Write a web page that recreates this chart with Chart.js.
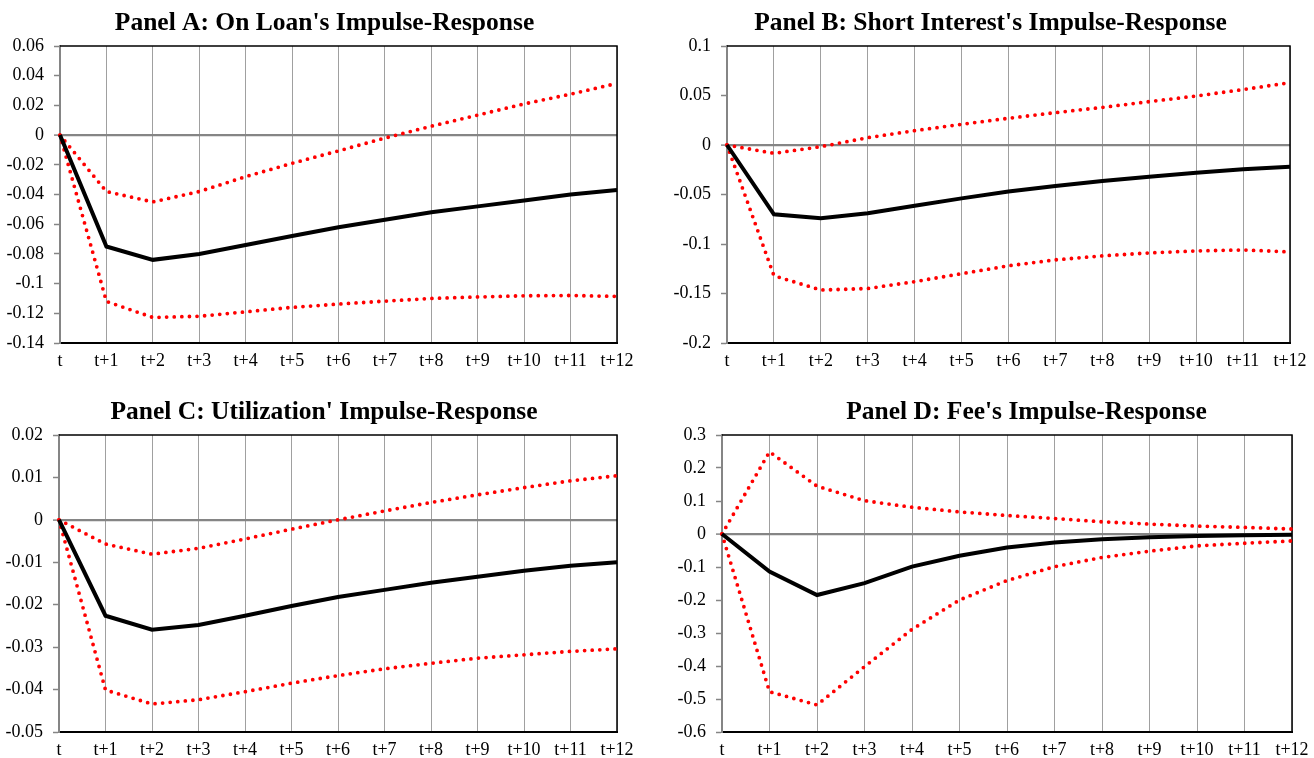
<!DOCTYPE html>
<html>
<head>
<meta charset="utf-8">
<script src="https://cdn.jsdelivr.net/npm/chart.js@4"></script>
<style>
  html, body { margin: 0; padding: 0; background: #fff; overflow: hidden; width: 1314px; height: 758px; }
  canvas { position: absolute; }
</style>
</head>
<body>
<canvas id="panelA" width="649" height="385" style="left:0px;top:0px"></canvas>
<canvas id="panelB" width="661" height="385" style="left:660px;top:0px"></canvas>
<canvas id="panelC" width="648" height="368" style="left:0px;top:390px"></canvas>
<canvas id="panelD" width="753" height="368" style="left:650px;top:390px"></canvas>
<script>
// horizon labels
var categories = ["t", "t+1", "t+2", "t+3", "t+4", "t+5", "t+6", "t+7", "t+8", "t+9", "t+10", "t+11", "t+12"];

// Panel A: On Loan
var loanMid = [0, -0.075, -0.084, -0.080, -0.074, -0.068, -0.062, -0.057, -0.052, -0.048, -0.044, -0.040, -0.037];
var loanUpper = [0, -0.038, -0.045, -0.038, -0.028, -0.019, -0.0106, -0.002, 0.006, 0.0135, 0.021, 0.0276, 0.0348];
var loanLower = [0, -0.112, -0.1228, -0.122, -0.119, -0.116, -0.1138, -0.1118, -0.110, -0.109, -0.1082, -0.108, -0.1086];
var loanAxis = [-0.14, 0.06, 0.02]; // min, max, step

// Panel B: Short Interest
var shortMid = [0, -0.070, -0.074, -0.069, -0.0613, -0.0539, -0.047, -0.0414, -0.0364, -0.032, -0.028, -0.0246, -0.0219];
var shortUpper = [0, -0.0084, -0.0017, 0.0074, 0.0145, 0.0209, 0.027, 0.0327, 0.038, 0.0438, 0.0495, 0.056, 0.063];
var shortLower = [0, -0.132, -0.1465, -0.145, -0.138, -0.130, -0.122, -0.116, -0.112, -0.109, -0.107, -0.106, -0.108];
var shortAxis = [-0.2, 0.1, 0.05];

// Panel C: Utilization
var utilMid = [0, -0.0226, -0.0259, -0.0248, -0.0226, -0.0203, -0.0182, -0.0165, -0.0148, -0.0134, -0.0120, -0.0108, -0.0100];
var utilUpper = [0, -0.0057, -0.0081, -0.0067, -0.0045, -0.0022, 0, 0.0021, 0.0041, 0.0059, 0.0076, 0.0092, 0.0104];
var utilLower = [0, -0.0401, -0.0434, -0.0424, -0.0405, -0.0385, -0.0367, -0.0351, -0.0338, -0.0326, -0.0318, -0.0310, -0.0304];
var utilAxis = [-0.05, 0.02, 0.01];

// Panel D: Fee
var feeMid = [0, -0.114, -0.185, -0.149, -0.099, -0.066, -0.041, -0.026, -0.016, -0.010, -0.006, -0.004, -0.002];
var feeUpper = [0, 0.249, 0.145, 0.101, 0.081, 0.067, 0.056, 0.047, 0.037, 0.030, 0.024, 0.020, 0.015];
var feeLower = [0, -0.478, -0.518, -0.402, -0.289, -0.200, -0.141, -0.099, -0.071, -0.052, -0.036, -0.028, -0.021];
var feeAxis = [-0.6, 0.3, 0.1];

var serif = "'Liberation Serif', 'Times New Roman', serif";

// top and right edge of the plot box
var frame = {
  id: "frame",
  beforeDatasetsDraw: function (chart) {
    var a = chart.chartArea;
    var ctx = chart.ctx;
    ctx.save();
    ctx.strokeStyle = "#000";
    ctx.lineWidth = 1.5;
    ctx.beginPath();
    ctx.moveTo(a.left, a.top);
    ctx.lineTo(a.right, a.top);
    ctx.lineTo(a.right, a.bottom);
    ctx.stroke();
    ctx.restore();
  },
};

function dotted(data) {
  return {
    data: data,
    borderColor: "#ff0000",
    borderWidth: 3.8,
    borderDash: [0, 7.6],
    borderCapStyle: "round",
    pointRadius: 0,
    tension: 0,
    fill: false,
  };
}

function makePanel(id, title, mid, upper, lower, axis, box) {
  var ctx = document.getElementById(id).getContext("2d");
  return new Chart(ctx, {
    type: "line",
    data: {
      labels: categories,
      datasets: [
        {
          data: mid,
          borderColor: "#000",
          borderWidth: 4,
          pointRadius: 0,
          tension: 0,
          fill: false,
        },
        dotted(upper),
        dotted(lower),
      ],
    },
    plugins: [frame],
    options: {
      responsive: false,
      animation: false,
      devicePixelRatio: 1,
      layout: { padding: 0 },
      plugins: {
        legend: { display: false },
        tooltip: { enabled: false },
        title: {
          display: true,
          text: title,
          color: "#000",
          font: { family: serif, size: 25.5, weight: "bold", lineHeight: 1.2 },
          padding: { top: box.titleTop, bottom: box.titleBottom },
        },
      },
      scales: {
        x: {
          offset: false,
          grid: { color: "#a0a0a0", lineWidth: 1, drawTicks: false },
          border: { color: "#000", width: 2 },
          ticks: {
            color: "#000",
            font: { family: serif, size: 18 },
            padding: 7,
            maxRotation: 0,
            autoSkip: false,
          },
          afterFit: function (scale) {
            scale.height = box.xh;
            scale.paddingLeft = 0;
            scale.paddingRight = box.pr;
          },
        },
        y: {
          min: axis[0],
          max: axis[1],
          grid: {
            color: function (c) {
              return c.tick && Math.abs(c.tick.value) < 1e-9 ? "#858585" : "rgba(0,0,0,0)";
            },
            lineWidth: function (c) {
              return c.tick && Math.abs(c.tick.value) < 1e-9 ? 2.2 : 1;
            },
            tickColor: "#858585",
            tickLength: 6,
            tickWidth: 1.5,
          },
          border: { color: "#858585", width: 2 },
          ticks: {
            stepSize: axis[2],
            color: "#000",
            font: { family: serif, size: 18 },
            padding: 10,
            callback: function (v) {
              return String(Number(v.toFixed(4)));
            },
          },
          afterFit: function (scale) {
            scale.width = box.yw;
            scale.paddingTop = 0;
            scale.paddingBottom = 0;
          },
        },
      },
    },
  });
}

makePanel("panelA", "Panel A: On Loan's Impulse-Response", loanMid, loanUpper, loanLower, loanAxis,
  { yw: 60, xh: 42, pr: 32, titleTop: 7.8, titleBottom: 7.6 });
makePanel("panelB", "Panel B: Short Interest's Impulse-Response", shortMid, shortUpper, shortLower, shortAxis,
  { yw: 67, xh: 42, pr: 31, titleTop: 7.8, titleBottom: 7.6 });
makePanel("panelC", "Panel C: Utilization' Impulse-Response", utilMid, utilUpper, utilLower, utilAxis,
  { yw: 59, xh: 26, pr: 31, titleTop: 6.8, titleBottom: 7.6 });
makePanel("panelD", "Panel D: Fee's Impulse-Response", feeMid, feeUpper, feeLower, feeAxis,
  { yw: 72, xh: 26, pr: 111, titleTop: 6.8, titleBottom: 7.6 });
</script>
</body>
</html>
